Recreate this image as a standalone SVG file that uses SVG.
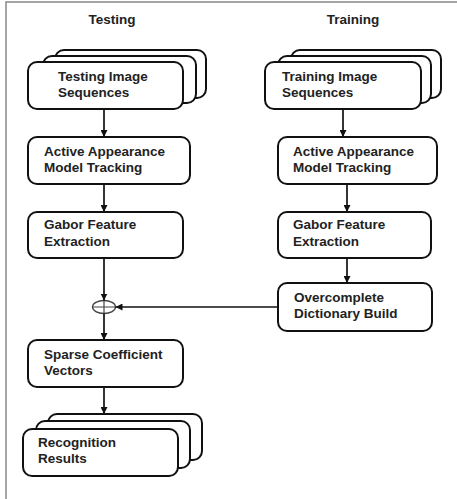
<svg xmlns="http://www.w3.org/2000/svg" width="457" height="499" viewBox="0 0 457 499">
<style>
.box{fill:#fff;stroke:#111;stroke-width:2}
.t{font-family:"Liberation Sans",Arial,sans-serif;font-weight:bold;font-size:13.5px;fill:#222}
.c{stroke:#111;stroke-width:1.7;fill:none}
</style>
<defs>
<marker id="ah" viewBox="0 0 10 10" refX="10" refY="5" markerWidth="7" markerHeight="7" markerUnits="userSpaceOnUse" orient="auto">
<path d="M0,0 L10,5 L0,10 z" fill="#111"/>
</marker>
</defs>
<rect width="457" height="499" fill="#fff"/>
<path d="M6,499 V2 H457" fill="none" stroke="#888" stroke-width="1.5"/>
<text class="t" x="112" y="24" text-anchor="middle">Testing</text>
<text class="t" x="353" y="24" text-anchor="middle">Training</text>

<g id="testing-seq">
<rect class="box" x="55" y="50" width="151" height="48" rx="9"/>
<rect class="box" x="43" y="56" width="153" height="47" rx="9"/>
<rect class="box" x="28" y="62" width="155" height="47" rx="9"/>
<text class="t" x="58" y="81">Testing Image</text>
<text class="t" x="58" y="97">Sequences</text>
</g>
<g id="testing-aam">
<rect class="box" x="28" y="137" width="162" height="47" rx="9"/>
<text class="t" x="44" y="156">Active Appearance</text>
<text class="t" x="44" y="172">Model Tracking</text>
</g>
<g id="testing-gabor">
<rect class="box" x="28" y="212" width="155" height="46" rx="9"/>
<text class="t" x="44" y="229">Gabor Feature</text>
<text class="t" x="44" y="246">Extraction</text>
</g>
<g id="sum">
<ellipse cx="104" cy="307" rx="11.5" ry="6.5" fill="#fff" stroke="#444" stroke-width="1.3"/>
<path d="M92.5,307 H115.5 M104,300.5 V313.5" stroke="#444" stroke-width="1.2"/>
</g>
<g id="sparse">
<rect class="box" x="28" y="340" width="155" height="47" rx="9"/>
<text class="t" x="44" y="359">Sparse Coefficient</text>
<text class="t" x="44" y="375">Vectors</text>
</g>
<g id="results">
<rect class="box" x="48" y="414" width="154" height="46" rx="9"/>
<rect class="box" x="36" y="421" width="154" height="47" rx="9"/>
<rect class="box" x="23" y="429" width="155" height="47" rx="9"/>
<text class="t" x="38" y="447">Recognition</text>
<text class="t" x="38" y="463">Results</text>
</g>

<g id="training-seq">
<rect class="box" x="291" y="50" width="150" height="48" rx="9"/>
<rect class="box" x="278" y="56" width="153" height="47" rx="9"/>
<rect class="box" x="265" y="62" width="156" height="47" rx="9"/>
<text class="t" x="282" y="81">Training Image</text>
<text class="t" x="282" y="97">Sequences</text>
</g>
<g id="training-aam">
<rect class="box" x="278" y="137" width="159" height="47" rx="9"/>
<text class="t" x="293" y="156">Active Appearance</text>
<text class="t" x="293" y="172">Model Tracking</text>
</g>
<g id="training-gabor">
<rect class="box" x="278" y="212" width="153" height="46" rx="9"/>
<text class="t" x="293" y="229">Gabor Feature</text>
<text class="t" x="293" y="246">Extraction</text>
</g>
<g id="dictionary">
<rect class="box" x="278" y="283" width="154" height="48" rx="9"/>
<text class="t" x="294" y="302">Overcomplete</text>
<text class="t" x="294" y="318">Dictionary Build</text>
</g>

<g id="connectors">
<path class="c" d="M104,109 V137" marker-end="url(#ah)"/>
<path class="c" d="M104,184 V212" marker-end="url(#ah)"/>
<path class="c" d="M104,258 V300.5" marker-end="url(#ah)"/>
<path class="c" d="M104,313.5 V340" marker-end="url(#ah)"/>
<path class="c" d="M104,387 V414" marker-end="url(#ah)"/>
<path class="c" d="M343,109 V137" marker-end="url(#ah)"/>
<path class="c" d="M347,184 V212" marker-end="url(#ah)"/>
<path class="c" d="M347,258 V283" marker-end="url(#ah)"/>
<path class="c" d="M278,307 H115.5" marker-end="url(#ah)"/>
</g>
</svg>
